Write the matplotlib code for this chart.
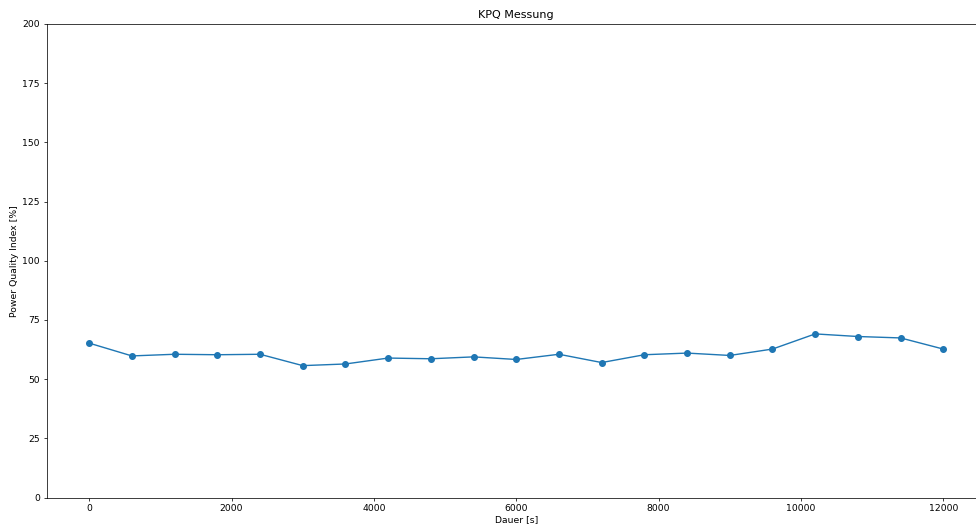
import matplotlib

matplotlib.use("Agg")
import matplotlib.pyplot as plt

# KPQ readings every 600 s
dauer_s = [0, 600, 1200, 1800, 2400, 3000, 3600, 4200, 4800, 5400, 6000,
           6600, 7200, 7800, 8400, 9000, 9600, 10200, 10800, 11400, 12000]
pqi = [65.2, 59.8, 60.5, 60.3, 60.5, 55.7, 56.4, 58.9, 58.6, 59.4, 58.3,
       60.5, 57.0, 60.3, 61.0, 60.0, 62.7, 69.1, 68.0, 67.4, 62.7]

S = 0.67  # shrink factor for fonts / line widths
plt.rcParams.update({
    "font.size": 10 * S,
    "axes.linewidth": 0.8 * S,
    "xtick.major.width": 0.8 * S,
    "ytick.major.width": 0.8 * S,
    "xtick.major.size": 3.5 * S,
    "ytick.major.size": 3.5 * S,
    "xtick.major.pad": 3.5 * S,
    "ytick.major.pad": 3.5 * S,
})

fig = plt.figure(figsize=(9.76, 5.25), dpi=100)
ax = fig.add_axes([46.5 / 976, 1 - 497.5 / 525, (986 - 46.5) / 976, (497.5 - 24) / 525])

ax.plot(dauer_s, pqi, marker="o", color="#1f77b4", linewidth=1.5 * S, markersize=6 * S)
ax.set_ylim(0, 200)
ax.set_title("KPQ Messung", fontsize=12 * S, pad=6 * S)
ax.set_xlabel("Dauer [s]", labelpad=1.5)
ax.set_ylabel("Power Quality Index [%]", labelpad=4 * S)

fig.savefig("out.png", dpi=100)
